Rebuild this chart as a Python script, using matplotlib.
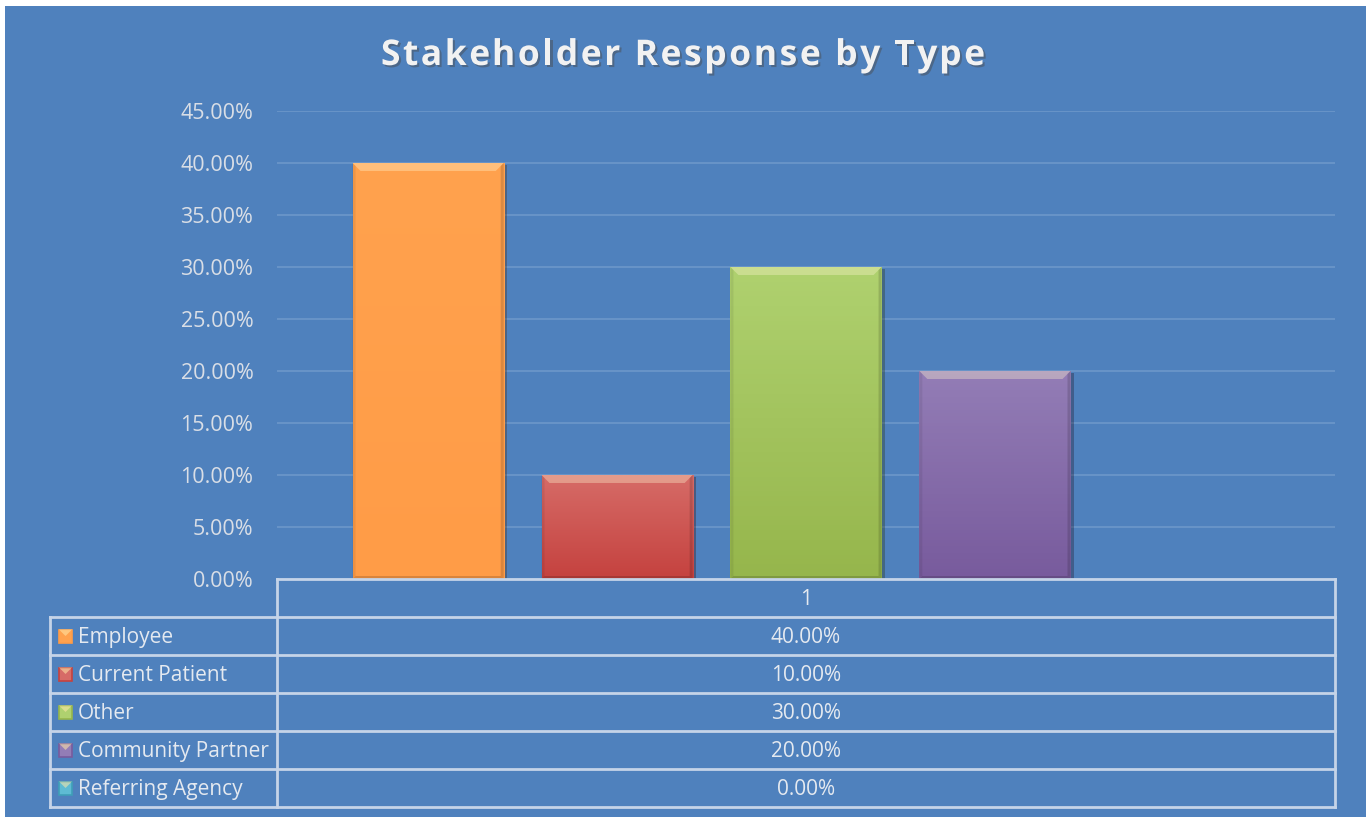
import numpy as np
import matplotlib
matplotlib.use("Agg")
import matplotlib.pyplot as plt
import matplotlib.patheffects as pe
from matplotlib.colors import LinearSegmentedColormap
from matplotlib.patches import Rectangle, Polygon

plt.rcParams['font.family'] = ['Open Sans', 'DejaVu Sans']

# data
title = "Stakeholder Response by Type"
categories = ["1"]
series = ["Employee", "Current Patient", "Other", "Community Partner", "Referring Agency"]
values = [0.40, 0.10, 0.30, 0.20, 0.00]
top_colors = ["#FFA24E", "#D66B67", "#AFD16F", "#937DB6", "#5EBBD3"]
bottom_colors = ["#FF9C47", "#C5423F", "#96B64C", "#785B9D", "#3F9FB8"]
yticks = np.arange(0, 0.451, 0.05)

bg = "#4F81BD"
grid_col = "#6A95C9"
line_col = "#C5D4E8"
txt_col = "#E4E9F0"

fig = plt.figure(figsize=(13.66, 8.17), dpi=100)
fig.patch.set_facecolor("white")
fig.add_artist(Rectangle((5 / 1366, 0), 1, 1 - 6 / 817, transform=fig.transFigure,
                         facecolor=bg, edgecolor="none", zorder=-10))

ax = fig.add_axes([277 / 1366, 1 - 579 / 817, 1058 / 1366, 468 / 817])
ax.set_facecolor("none")

n = len(series)
w = 1.0 / 7
xs = [-0.5 + w + 1.25 * w * i for i in range(n)]

ax.set_xlim(-0.5, 0.5)
ax.set_ylim(0, 0.45)

bars = ax.bar(xs, values, width=w, color=bottom_colors, zorder=3,
              edgecolor="none")

# px -> data sizes for bevel
px_x = 1.0 / 1058
px_y = 0.45 / 468
for bar, c0, c1 in zip(bars, bottom_colors, top_colors):
    h = bar.get_height()
    if h <= 0:
        continue
    x0 = bar.get_x()
    x1 = x0 + bar.get_width()
    bar.set_path_effects([pe.SimplePatchShadow(offset=(2.5, -1.5), alpha=0.35), pe.Normal()])
    cmap = LinearSegmentedColormap.from_list("g", [c0, c1])
    grad = np.linspace(1, 0, 64).reshape(-1, 1)
    im = ax.imshow(grad, extent=[x0, x1, 0, h], aspect="auto", cmap=cmap, zorder=4)
    im.set_clip_path(bar)
    d = 8
    # top bevel highlight
    ax.add_patch(Polygon([[x0, h], [x1, h], [x1 - d * px_x, h - d * px_y], [x0 + d * px_x, h - d * px_y]],
                         closed=True, facecolor="#FFF6D0", alpha=0.35, edgecolor="none", zorder=5))
    # side / bottom shading
    ax.add_patch(Polygon([[x1, h], [x1, 0], [x1 - 3 * px_x, 3 * px_y], [x1 - 3 * px_x, h - 3 * px_y]],
                         closed=True, facecolor="black", alpha=0.14, edgecolor="none", zorder=5))
    ax.add_patch(Polygon([[x0, h], [x0, 0], [x0 + 3 * px_x, 3 * px_y], [x0 + 3 * px_x, h - 3 * px_y]],
                         closed=True, facecolor="black", alpha=0.07, edgecolor="none", zorder=5))
    ax.add_patch(Polygon([[x0, 0], [x1, 0], [x1 - 3 * px_x, 3 * px_y], [x0 + 3 * px_x, 3 * px_y]],
                         closed=True, facecolor="black", alpha=0.15, edgecolor="none", zorder=5))

ax.set_xlim(-0.5, 0.5)
ax.set_ylim(0, 0.45)

ax.set_yticks(yticks)
ax.set_yticklabels([f"{v * 100:.2f}%" for v in yticks], color="#D9DEE6", fontsize=15.5)
ax.tick_params(axis="y", length=0, pad=17)
ax.set_xticks([])
ax.yaxis.grid(True, color=grid_col, linewidth=1.3, zorder=0)
ax.set_axisbelow(True)
for s in ["left", "right", "top", "bottom"]:
    ax.spines[s].set_visible(False)

# data table under the axis
rh = 38 / 468
xl = -227 / 1058
lk = dict(color=line_col, linewidth=2, transform=ax.transAxes, clip_on=False, zorder=6)
ax.plot([0, 1], [0, 0], **lk)
for i in range(1, n + 2):
    ax.plot([xl, 1], [-i * rh, -i * rh], **lk)
ax.plot([0, 0], [0, -(n + 1) * rh], **lk)
ax.plot([1, 1], [0, -(n + 1) * rh], **lk)
ax.plot([xl, xl], [-rh, -(n + 1) * rh], **lk)

dy = 1.5 / 468
ax.text(0.5, -0.5 * rh - dy, categories[0], transform=ax.transAxes, ha="center", va="center",
        fontsize=15, color=txt_col)
for i, (name, v, c0, c1) in enumerate(zip(series, values, bottom_colors, top_colors)):
    yc = -(i + 1.5) * rh
    ax.text(0.5, yc - dy, f"{v * 100:.2f}%", transform=ax.transAxes, ha="center", va="center",
            fontsize=15, color=txt_col)
    ax.text(xl + 28 / 1058, yc - dy, name, transform=ax.transAxes, ha="left", va="center",
            fontsize=15, color=txt_col)
    ax.add_patch(Rectangle((xl + 9 / 1058, yc - 6.5 / 468), 13 / 1058, 13 / 468,
                           transform=ax.transAxes, facecolor=c1, edgecolor=c0,
                           linewidth=1.2, clip_on=False, zorder=7))
    ax.add_patch(Polygon([[xl + 9 / 1058, yc + 6.5 / 468], [xl + 22 / 1058, yc + 6.5 / 468],
                          [xl + 15.5 / 1058, yc]], closed=True, transform=ax.transAxes,
                         facecolor="#FFE9A8", alpha=0.55, edgecolor="none", clip_on=False, zorder=8))

# title with letter spacing, drawn char by char
tkw = dict(fontsize=25.5, fontweight="bold", color="#F2F2F2", va="center", ha="left",
           path_effects=[pe.withSimplePatchShadow(offset=(1.5, -1.5), alpha=0.45)])
renderer = fig.canvas.get_renderer()


def text_width(s):
    t = fig.text(0, 0, s + "|", **tkw)
    wd = t.get_window_extent(renderer).width
    t.remove()
    t = fig.text(0, 0, "|", **tkw)
    wd -= t.get_window_extent(renderer).width
    t.remove()
    return wd


spacing = 2.6
total = text_width(title) + spacing * (len(title) - 1)
x_start = 683 - total / 2
for i, ch in enumerate(title):
    if ch == " ":
        continue
    xp = x_start + text_width(title[:i]) + spacing * i
    fig.text(xp / 1366, 1 - 56 / 817, ch, **tkw)

fig.savefig("out.png", dpi=100, facecolor=fig.get_facecolor())
